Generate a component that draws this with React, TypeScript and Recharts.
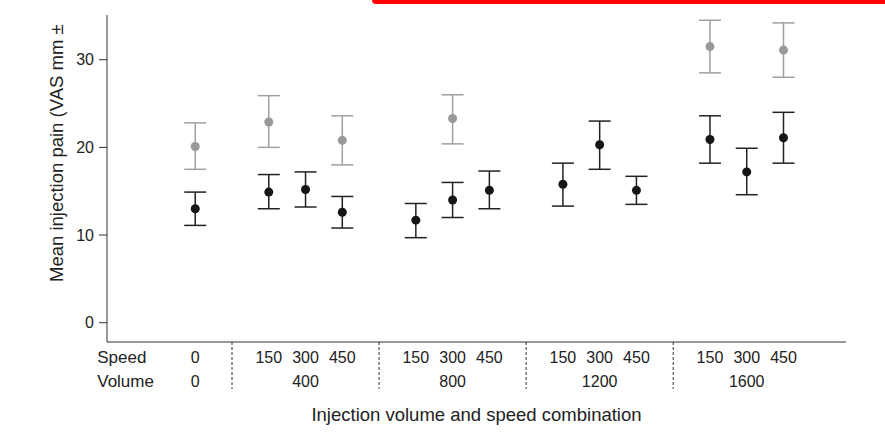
import { ErrorBar, Scatter, ScatterChart, XAxis, YAxis } from "recharts"

// slot positions along the x axis (gaps at 1, 5, 9, 13 hold the dashed separators)
const slotPos = [0, 2, 3, 4, 6, 7, 8, 10, 11, 12, 14, 15, 16]
const speedLabels = ["0", "150", "300", "450", "150", "300", "450", "150", "300", "450", "150", "300", "450"]
const volumeLabels = ["0", "400", "800", "1200", "1600"]
const volumeSlots = [0, 3, 7, 11, 15]
const separatorSlots = [1, 5, 9, 13]
const yTicks = [0, 10, 20, 30]

const blackMean = [13.0, 14.9, 15.2, 12.6, 11.7, 14.0, 15.1, 15.8, 20.3, 15.1, 20.9, 17.2, 21.1]
const blackLow = [11.1, 13.0, 13.2, 10.8, 9.7, 12.0, 13.0, 13.3, 17.5, 13.5, 18.2, 14.6, 18.2]
const blackHigh = [14.9, 16.9, 17.2, 14.4, 13.6, 16.0, 17.3, 18.2, 23.0, 16.7, 23.6, 19.9, 24.0]

const grayIdx = [0, 1, 3, 5, 10, 12]
const grayMean = [20.1, 22.9, 20.8, 23.3, 31.5, 31.1]
const grayLow = [17.5, 20.0, 18.0, 20.4, 28.5, 28.0]
const grayHigh = [22.8, 25.9, 23.6, 26.0, 34.5, 34.2]

const blackData = slotPos.map((s, i) => ({
  x: s,
  y: blackMean[i],
  err: [blackMean[i] - blackLow[i], blackHigh[i] - blackMean[i]],
}))

const grayData = grayIdx.map((idx, i) => ({
  x: slotPos[idx],
  y: grayMean[i],
  err: [grayMean[i] - grayLow[i], grayHigh[i] - grayMean[i]],
}))

const font = "'Liberation Sans', Arial, sans-serif"
const ink = "#222"

function SlotTick(props: any) {
  const { x, y, payload } = props
  const slot = payload.value
  const i = slotPos.indexOf(slot)
  const v = volumeSlots.indexOf(slot)
  const isSep = separatorSlots.includes(slot)
  return (
    <g fontFamily={font} fontSize={16} fill={ink}>
      {i >= 0 && (
        <text x={x} y={y + 21} textAnchor="middle">
          {speedLabels[i]}
        </text>
      )}
      {v >= 0 && (
        <text x={x} y={y + 45} textAnchor="middle">
          {volumeLabels[v]}
        </text>
      )}
      {isSep && <line x1={x} x2={x} y1={y} y2={y + 47} stroke="#333" strokeDasharray="3 2" />}
      {slot === 0 && (
        <g fontSize={17}>
          <text x={x - 98} y={y + 21}>Speed</text>
          <text x={x - 98} y={y + 45}>Volume</text>
        </g>
      )}
    </g>
  )
}

const dot = (color: string) => (p: any) => <circle cx={p.cx} cy={p.cy} r={4.5} fill={color} />

export default function App() {
  return (
    <div style={{ position: "absolute", left: 0, top: 0, width: 885, height: 447, background: "#fff" }}>
      <div
        style={{
          position: "absolute",
          left: 372,
          top: 0,
          width: 513,
          height: 4,
          background: "#ff0000",
          borderBottomLeftRadius: 4,
        }}
      />
      <ScatterChart width={885} height={447} margin={{ top: 15, right: 39, bottom: 0, left: 0 }}>
        <XAxis
          type="number"
          dataKey="x"
          domain={[-2.4, 17.7]}
          ticks={[0, 1, 2, 3, 4, 5, 6, 7, 8, 9, 10, 11, 12, 13, 14, 15, 16]}
          interval={0}
          allowDataOverflow
          height={105}
          tickSize={0}
          tickMargin={0}
          tickLine={false}
          stroke="#333"
          tick={<SlotTick />}
          label={(p: any) => (
            <text
              x={p.viewBox.x + p.viewBox.width / 2}
              y={p.viewBox.y + 79}
              textAnchor="middle"
              fontFamily={font}
              fontSize={18.5}
              fill={ink}
            >
              Injection volume and speed combination
            </text>
          )}
        />
        <YAxis
          type="number"
          dataKey="y"
          domain={[-2.2, 35.1]}
          ticks={yTicks}
          allowDataOverflow
          width={107}
          tickSize={8}
          tickMargin={5}
          stroke="#333"
          tick={{ fill: ink, fontSize: 16, fontFamily: font }}
          label={() => (
            <text
              x={63}
              y={282}
              transform="rotate(-90, 63, 282)"
              fontFamily={font}
              fontSize={18.5}
              fill={ink}
            >
              Mean injection pain (VAS mm ±
            </text>
          )}
        />
        <Scatter data={grayData} isAnimationActive={false} shape={dot("#999")}>
          <ErrorBar dataKey="err" direction="y" width={11} stroke="#a0a0a0" strokeWidth={1.5} isAnimationActive={false} />
        </Scatter>
        <Scatter data={blackData} isAnimationActive={false} shape={dot("#161616")}>
          <ErrorBar dataKey="err" direction="y" width={11} stroke="#222" strokeWidth={1.5} isAnimationActive={false} />
        </Scatter>
      </ScatterChart>
    </div>
  )
}
